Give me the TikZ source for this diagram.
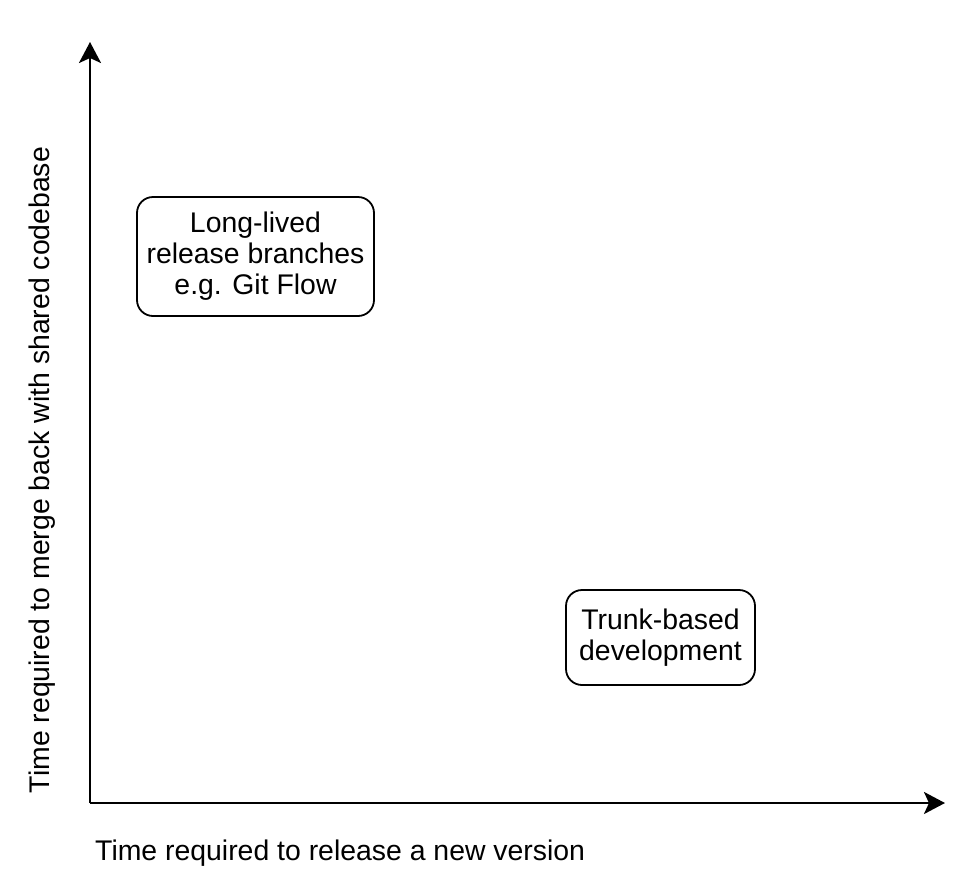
\documentclass[tikz,border=0pt]{standalone}
\usepackage{fontspec}
\setmainfont{Liberation Sans}
\usepackage{tikz}
\usetikzlibrary{arrows.meta}

\tikzset{
    axisline/.style={line width=2.6pt, -{Stealth[length=21pt, width=22pt, inset=5pt]}},
    branchbox/.style={draw, line width=1.8pt, rounded corners=16pt, align=center, inner sep=0pt, font=\fontsize{28.4}{31}\selectfont},
    axislabel/.style={font=\fontsize{28.4}{31}\selectfont, inner sep=0pt}
}

\begin{document}
\begin{tikzpicture} [x=1pt, y=-1pt]

        \useasboundingbox (0, 0) rectangle (978, 884);

        \coordinate (origin) at (90, 803);
        \coordinate (ytop) at (90, 42);
        \coordinate (xend) at (945, 803);

        \draw[axisline] (origin) -- (ytop);
        \draw[axisline] (origin) -- (xend);

        \node[branchbox, minimum width=237pt, minimum height=119pt] (gitflow) at (255.5, 256.5) {Long-lived\\release branches\\e.g. Git Flow};
        \node[branchbox, minimum width=189pt, minimum height=95pt] (trunk) at (660.5, 637.5) {Trunk-based\\development};

        \node[axislabel, anchor=west] (xlabel) at (95, 853) {Time required to release a new version};
        \node[axislabel, rotate=90] (ylabel) at (42, 470) {Time required to merge back with shared codebase};
    \end{tikzpicture}
\end{document}
